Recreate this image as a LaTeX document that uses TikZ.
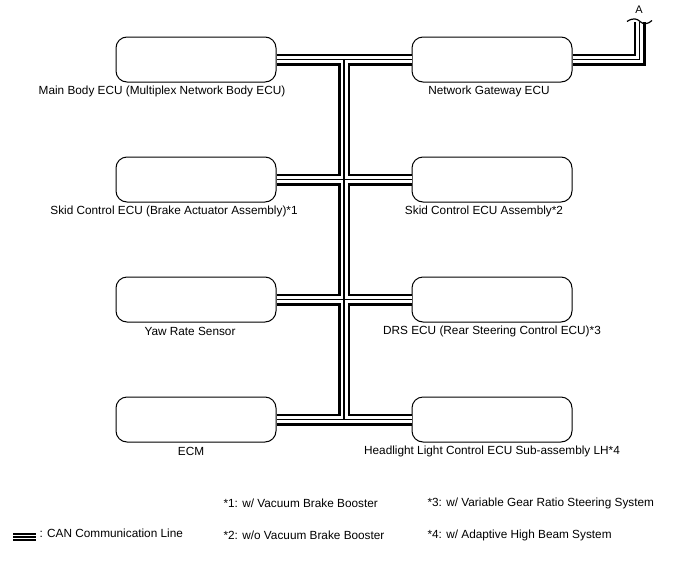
\documentclass[tikz,border=0pt]{standalone}
\usepackage{fontspec}
\setmainfont{Liberation Sans}
\usetikzlibrary{calc}
\definecolor{ink}{HTML}{000000}

\begin{document}
\begin{tikzpicture}[x=1pt,y=-1pt,text=ink,
                    font=\fontsize{11.8}{13}\selectfont,
  ecu/.style={draw=ink,line width=1pt,rounded corners=11pt,fill=white,
              minimum width=160pt,minimum height=45pt,inner sep=0pt},
  lbl/.style={anchor=center},
  note/.style={anchor=west}]
  \useasboundingbox (0,0) rectangle (688,560);

  % ECUs, two columns of four
  \node[ecu] (mainbody)  at (196,59.5)  {};
  \node[ecu] (gateway)   at (492,59.5)  {};
  \node[ecu] (skidecu)   at (196,179.5) {};
  \node[ecu] (skidassy)  at (492,179.5) {};
  \node[ecu] (yaw)       at (196,299.5) {};
  \node[ecu] (drs)       at (492,299.5) {};
  \node[ecu] (ecm)       at (196,419.5) {};
  \node[ecu] (headlight) at (492,419.5) {};

  \node[lbl] (mainbodytxt)  at (162,91)  {Main Body ECU (Multiplex Network Body ECU)};
  \node[lbl] (gatewaytxt)   at (489,91)  {Network Gateway ECU};
  \node[lbl] (skidecutxt)   at (174,211) {Skid Control ECU (Brake Actuator Assembly)*1};
  \node[lbl] (skidassytxt)  at (484,211) {Skid Control ECU Assembly*2};
  \node[lbl] (yawtxt)       at (190,331) {Yaw Rate Sensor};
  \node[lbl] (drstxt)       at (492,331) {DRS ECU (Rear Steering Control ECU)*3};
  \node[lbl] (ecmtxt)       at (191,451) {ECM};
  \node[lbl] (headlighttxt) at (492,451) {Headlight Light Control ECU Sub-assembly LH*4};

  % CAN bus: black, white, black laid on top of each other
  \coordinate (acorner) at (639.5,59.5);
  \coordinate (aend)    at (639.5,22);
  \coordinate (bustop)  at (344,59.5);
  \coordinate (busbot)  at (344,419.5);
  \foreach \w/\c in {12pt/ink,7pt/white,1.7pt/ink}
    \draw[line width=\w,\c]
      (mainbody.east) -- (gateway.west)
      (gateway.east) -- (acorner) -- (aend)
      (bustop) -- (busbot)
      (skidecu.east) -- (skidassy.west)
      (yaw.east) -- (drs.west)
      (ecm.east) -- (headlight.west);

  % break mark and connector letter
  \draw[ink,line width=1.2pt] (627,21.5)
    .. controls (633,17.5) and (637,18.5) .. (640,21.5)
    .. controls (643,24.5) and (648,24.5) .. (652,20.5);
  \node[font=\fontsize{11}{12}\selectfont] (aletter) at (639,10) {A};

  % legend
  \coordinate (legl) at (13,537);
  \coordinate (legr) at (36,537);
  \foreach \w/\c in {8pt/ink,4pt/white,1.7pt/ink}
    \draw[line width=\w,\c] (legl) -- (legr);
  \node[note] (legtxt) at (36,533) {: CAN Communication Line};

  \node[note] (fn1) at (220,503) {*1: w/ Vacuum Brake Booster};
  \node[note] (fn2) at (220,535) {*2: w/o Vacuum Brake Booster};
  \node[note] (fn3) at (424,503) {*3: w/ Variable Gear Ratio Steering System};
  \node[note] (fn4) at (424,535) {*4: w/ Adaptive High Beam System};
\end{tikzpicture}
\end{document}
